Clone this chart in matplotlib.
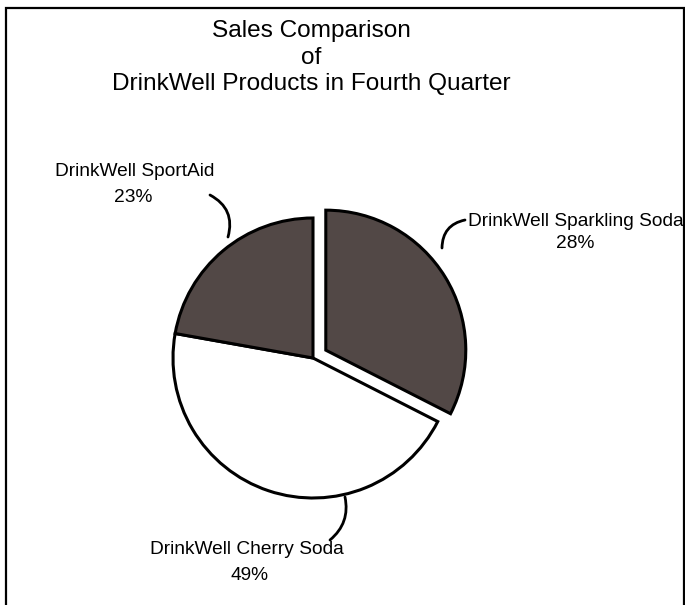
import matplotlib.pyplot as plt
from matplotlib.patches import Rectangle

# slices in drawing order (clockwise from 12 o'clock)
products = ["DrinkWell Sparkling Soda", "DrinkWell Cherry Soda", "DrinkWell SportAid"]
percent_labels = ["28%", "49%", "23%"]
# wedge shares as they are drawn in the picture
shares = [32.5, 45.3, 22.2]
fills = ["#524846", "#ffffff", "#524846"]
explode = [15, 0, 0]

title_lines = ["Sales Comparison", "of", "DrinkWell Products in Fourth Quarter"]

plt.rcParams['font.family'] = ['Liberation Sans', 'DejaVu Sans']

W, H = 685, 605
fig = plt.figure(figsize=(W / 100, H / 100), dpi=100)
ax = fig.add_axes([0, 0, 1, 1])

cx, cy, r = 313, H - 358, 140
wedges, _ = ax.pie(shares, colors=fills, explode=explode,
                   startangle=90, counterclock=False,
                   radius=r, center=(cx, cy), frame=True,
                   wedgeprops=dict(edgecolor='black', linewidth=2.2))
ax.set_xlim(0, W)
ax.set_ylim(0, H)
ax.set_aspect('equal')
ax.axis('off')

# title
for i, line in enumerate(title_lines):
    ax.text(311, H - 31 - i * 26.5, line, ha='center', va='center', fontsize=17.6)

# labels: (name x, name y from top, pct x, pct y from top)
label_pos = [(576, 222, 575, 244), (247, 549, 250, 576), (135, 172, 133, 198)]
for name, pct, (nx, ny, px, py) in zip(products, percent_labels, label_pos):
    ax.text(nx, H - ny, name, ha='center', va='center', fontsize=13.8)
    ax.text(px, H - py, pct, ha='center', va='center', fontsize=13.8)

# curved leader lines: (start, end, curvature)
leaders = [((465, 220), (442, 248), 0.4),
           ((345, 497), (330, 540), -0.3),
           ((210, 195), (228, 237), -0.4)]
for (x0, y0), (x1, y1), rad in leaders:
    ax.annotate('', xy=(x1, H - y1), xytext=(x0, H - y0),
                arrowprops=dict(arrowstyle='-', color='black', lw=2,
                                shrinkA=0, shrinkB=0,
                                connectionstyle='arc3,rad=%s' % rad))

# page border (bottom edge runs off the picture)
fig.add_artist(Rectangle((6 / W, -0.05), (684 - 6) / W, 1.05 - 8 / H,
                         transform=fig.transFigure, fill=False,
                         edgecolor='black', linewidth=1.6, clip_on=False))

fig.savefig("out.png", dpi=100)
